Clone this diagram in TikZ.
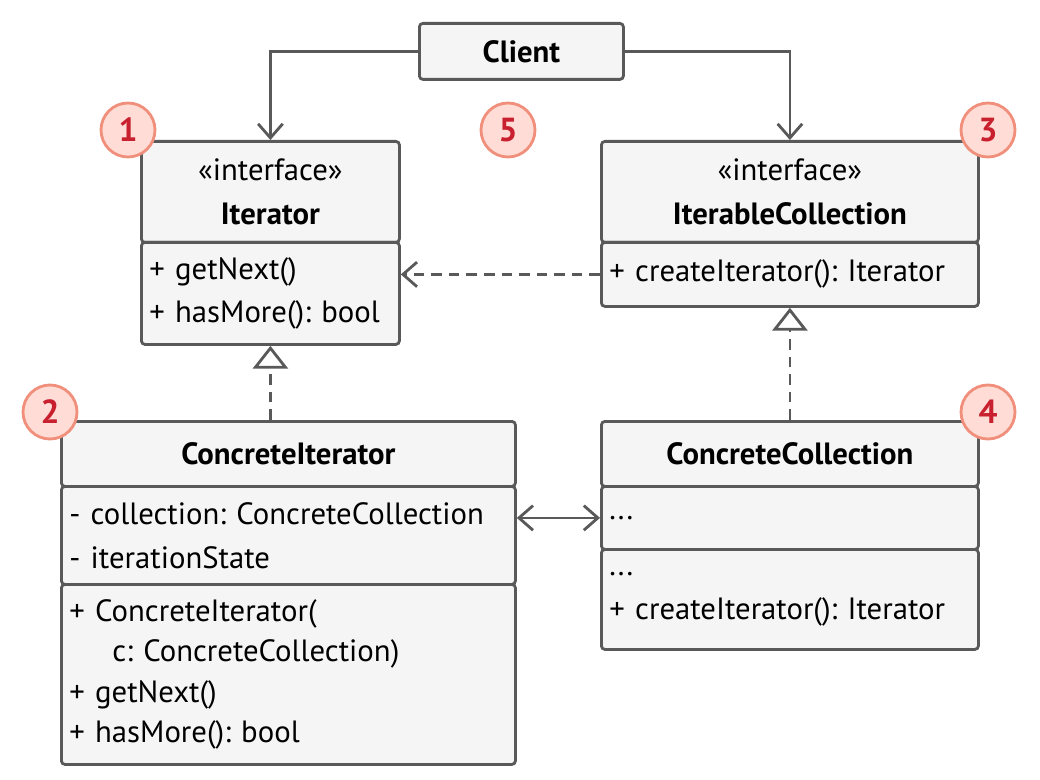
\documentclass[tikz,border=0pt]{standalone}
\usepackage{fontspec}
\setmainfont{PT Sans}
\usetikzlibrary{arrows.meta, positioning}
\definecolor{BoxFill}{HTML}{F5F5F5}
\definecolor{LineGray}{HTML}{595959}
\definecolor{BadgeFill}{HTML}{FFDDD6}
\definecolor{BadgeLine}{HTML}{F0907C}
\definecolor{BadgeText}{HTML}{C8202F}
\newdimen\pxu \pxu=0.02cm
\tikzset{every picture/.style={/utils/exec={\frenchspacing\fontsize{17.5}{25}\selectfont}}}

\begin{document}
\begin{tikzpicture} [
			x=0.02cm, y=-0.02cm,
			comp/.style={draw=LineGray, line width=1.6pt, fill=BoxFill, rounded corners=2pt, anchor=north west, inner sep=0pt, align=left},
			head/.style={comp, align=center},
			badge/.style={circle, draw=BadgeLine, fill=BadgeFill, line width=1.6pt, minimum size={54*\pxu}, inner sep=0pt, text=BadgeText, font=\fontsize{19}{20}\selectfont\bfseries},
			link/.style={draw=LineGray, line width=1.6pt},
			open/.style={-{Straight Barb[length=8pt,width=14pt,line width=1.6pt]}},
			real/.style={dashed, dash pattern=on 6pt off 4pt, -{Triangle[open,length=13pt,width=20pt,line width=1.6pt,fill=white]}}
		]
			\useasboundingbox (0,0) rectangle (1040,780);
			% client
			\node at (418,22) [head, minimum width={204*\pxu}, minimum height={56*\pxu}] (client) {\bfseries Client};
			% iterator
			\node at (140,140) [head, minimum width={258*\pxu}, minimum height={101*\pxu}] (iterhead) {«interface»\\\bfseries Iterator};
			\node at (140,241) [comp, minimum width={258*\pxu}, minimum height={102*\pxu}, text width={242*\pxu}] (itermeth) {+ getNext()\\+ hasMore(): bool};
			% iterable collection
			\node at (600,140) [head, minimum width={377*\pxu}, minimum height={101*\pxu}] (collhead) {«interface»\\\bfseries IterableCollection};
			\node at (600,241) [comp, minimum width={377*\pxu}, minimum height={64*\pxu}, text width={361*\pxu}] (collmeth) {+ createIterator(): Iterator};
			% concrete iterator
			\node at (60,420) [head, minimum width={454*\pxu}, minimum height={65*\pxu}] (citerhead) {\bfseries ConcreteIterator};
			\node at (60,485) [comp, minimum width={454*\pxu}, minimum height={98*\pxu}, text width={438*\pxu}] (citerfield) {- collection: ConcreteCollection\\- iterationState};
			\node at (60,583) [comp, minimum width={454*\pxu}, minimum height={180*\pxu}, text width={438*\pxu}, font=\fontsize{17.5}{23}\selectfont] (citermeth) {+ ConcreteIterator(\\\hspace*{1.4em}c: ConcreteCollection)\\+ getNext()\\+ hasMore(): bool};
			% concrete collection
			\node at (600,420) [head, minimum width={377*\pxu}, minimum height={65*\pxu}] (ccollhead) {\bfseries ConcreteCollection};
			\node at (600,485) [comp, minimum width={377*\pxu}, minimum height={63*\pxu}, text width={361*\pxu}] (ccollfield) {...};
			\node at (600,548) [comp, minimum width={377*\pxu}, minimum height={100*\pxu}, text width={361*\pxu}] (ccollmeth) {...\\+ createIterator(): Iterator};
			% badges
			\node at (128,130) [badge] (b1) {1};
			\node at (50,412) [badge] (b2) {2};
			\node at (988,130) [badge] (b3) {3};
			\node at (988,412) [badge] (b4) {4};
			\node at (508,130) [badge] (b5) {5};
			% connectors
			\path[link,open] (client.west) -| (iterhead.north);
			\path[link,open] (client.east) -| (collhead.north);
			\path[link,open,dashed,dash pattern=on 6pt off 4pt] (collmeth.west) -- (itermeth.east |- collmeth.west);
			\path[link,real] (citerhead.north -| iterhead.north) -- (itermeth.south);
			\path[link,real] (ccollhead.north) -- (collmeth.south);
			\path[link,{Straight Barb[length=8pt,width=14pt,line width=1.6pt]}-{Straight Barb[length=8pt,width=14pt,line width=1.6pt]}] (citerfield.east |- ccollfield.west) -- (ccollfield.west);
		\end{tikzpicture}
\end{document}
